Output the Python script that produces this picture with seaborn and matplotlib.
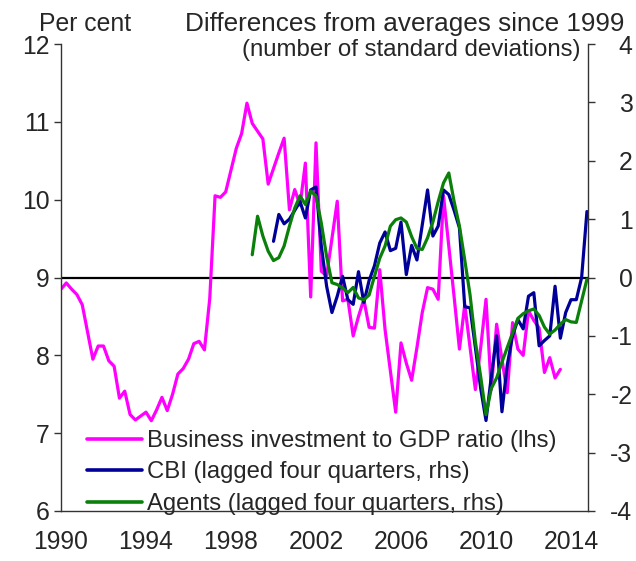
import numpy as np
import pandas as pd
import seaborn as sns
import matplotlib.pyplot as plt

sns.set_style("white")
plt.rcParams["font.family"] = ["Liberation Sans", "DejaVu Sans"]
plt.rcParams["axes.unicode_minus"] = False

# quarterly data, first value at the start year (Q1)
bus_start = 1990.0
bus_inv = [8.85, 8.93, 8.85, 8.78, 8.65, 8.3, 7.95, 8.12, 8.12, 7.93,
           7.86, 7.45, 7.54, 7.24, 7.17, 7.22, 7.27, 7.16, 7.3, 7.46,
           7.29, 7.5, 7.76, 7.83, 7.95, 8.15, 8.18, 8.07, 8.73, 10.05,
           10.03, 10.1, 10.38, 10.66, 10.85, 11.24, 10.98, 10.88, 10.78, 10.2,
           10.4, 10.6, 10.79, 9.87, 10.13, 9.93, 10.47, 8.75, 10.73, 9.08,
           9.02, 9.5, 9.98, 8.7, 8.72, 8.25, 8.5, 8.72, 8.36, 8.35,
           9.1, 8.33, 7.8, 7.27, 8.16, 7.9, 7.68, 8.1, 8.55, 8.87,
           8.85, 8.72, 10.05, 9.4, 8.75, 8.08, 8.65, 8.1, 7.56, 8.1,
           8.72, 7.56, 8.4, 7.95, 7.52, 8.42, 8.08, 8.0, 8.57, 8.45,
           8.35, 7.78, 7.97, 7.71, 7.82]

cbi_start = 2000.0
cbi = [0.62, 1.08, 0.92, 1.0, 1.15, 1.3, 1.02, 1.5, 1.55, 0.54,
       -0.15, -0.6, -0.32, 0.02, -0.38, -0.46, 0.1, -0.43, -0.05, 0.2,
       0.59, 0.78, 0.46, 0.5, 0.95, 0.05, 0.55, 0.3, 0.9, 1.5,
       0.71, 0.88, 1.5, 1.42, 1.15, 0.85, -0.5, -0.52, -1.2, -1.9,
       -2.45, -1.7, -1.0, -2.3, -1.5, -1.0, -0.72, -0.88, -0.32, -0.26,
       -1.17, -1.08, -1.0, -0.15, -1.04, -0.6, -0.38, -0.38, 0.0, 1.13]

agents_start = 1999.0
agents = [0.39, 1.05, 0.71, 0.45, 0.29, 0.34, 0.54, 0.88, 1.19, 1.4,
          1.25, 1.48, 1.4, 0.93, 0.36, -0.09, -0.12, -0.18, -0.26, -0.17,
          -0.35, -0.38, -0.3, 0.02, 0.33, 0.54, 0.88, 0.99, 1.02, 0.95,
          0.7, 0.5, 0.48, 0.68, 0.95, 1.3, 1.62, 1.79, 1.3, 0.88,
          0.3, -0.3, -1.1, -1.7, -2.35, -1.9, -1.72, -1.45, -1.2, -0.95,
          -0.7, -0.62, -0.57, -0.54, -0.65, -0.85, -0.97, -0.9, -0.8, -0.72,
          -0.76, -0.77, -0.4, -0.03]

labels = ["Business investment to GDP ratio (lhs)",
          "CBI (lagged four quarters, rhs)",
          "Agents (lagged four quarters, rhs)"]
colors = ["#FF00FF", "#000099", "#0A800A"]
xticks = [1990, 1994, 1998, 2002, 2006, 2010, 2014]


def quarterly(start, vals):
    return pd.DataFrame({"year": start + np.arange(len(vals)) / 4.0,
                         "value": vals})


W, H = 636, 561
fs = 17.8
fig = plt.figure(figsize=(W / 100, H / 100), dpi=100)
ax = fig.add_axes([61 / W, 1 - 511 / H, (588 - 61) / W, (511 - 44) / H])
ax2 = ax.twinx()

ax.axhline(9, color="black", lw=1.6, zorder=1)
sns.lineplot(data=quarterly(bus_start, bus_inv), x="year", y="value", ax=ax,
             color=colors[0], lw=2.3, legend=False)
sns.lineplot(data=quarterly(cbi_start, cbi), x="year", y="value", ax=ax2,
             color=colors[1], lw=2.3, legend=False)
sns.lineplot(data=quarterly(agents_start, agents), x="year", y="value", ax=ax2,
             color=colors[2], lw=2.3, legend=False)

ax.set_xlim(1990, 2014.8)
ax.set_ylim(6, 12)
ax2.set_ylim(-4, 4)
ax.set_xticks(xticks)
ax.set_yticks(range(6, 13))
ax2.set_yticks(range(-4, 5))
for a in (ax, ax2):
    a.set_xlabel("")
    a.set_ylabel("")
    a.spines["top"].set_visible(False)
    for s in a.spines.values():
        s.set_color("#333333")
        s.set_linewidth(1.0)
ax.spines["right"].set_visible(False)
ax2.spines["left"].set_visible(False)
ax2.spines["bottom"].set_visible(False)

ax.tick_params(axis="x", direction="in", length=5, width=1, color="#555555",
               pad=14, labelsize=fs)
ax.tick_params(axis="y", direction="out", length=5, width=1, color="#333333",
               pad=3, labelsize=fs, left=True)
ax2.tick_params(axis="y", direction="out", length=5, width=1, color="#333333",
                pad=27, labelsize=fs, right=True)
plt.setp(ax2.get_yticklabels(), ha="right")

handles = [plt.Line2D([], [], color=c, lw=2.6) for c in colors]
fig.legend(handles, labels, loc="lower left",
           bbox_to_anchor=(87 / W, 1 - 515 / H), frameon=False,
           fontsize=17.2, handlelength=2.3, handletextpad=0.2,
           labelspacing=0.4, borderpad=0, borderaxespad=0)

fig.text(39 / W, 1 - 31 / H, "Per cent", fontsize=fs, va="baseline")
fig.text(624 / W, 1 - 31 / H, "Differences from averages since 1999",
         fontsize=18.8, ha="right", va="baseline")
fig.text(581 / W, 1 - 56 / H, "(number of standard deviations)",
         fontsize=17.3, ha="right", va="baseline")

fig.savefig("out.png", dpi=100)
